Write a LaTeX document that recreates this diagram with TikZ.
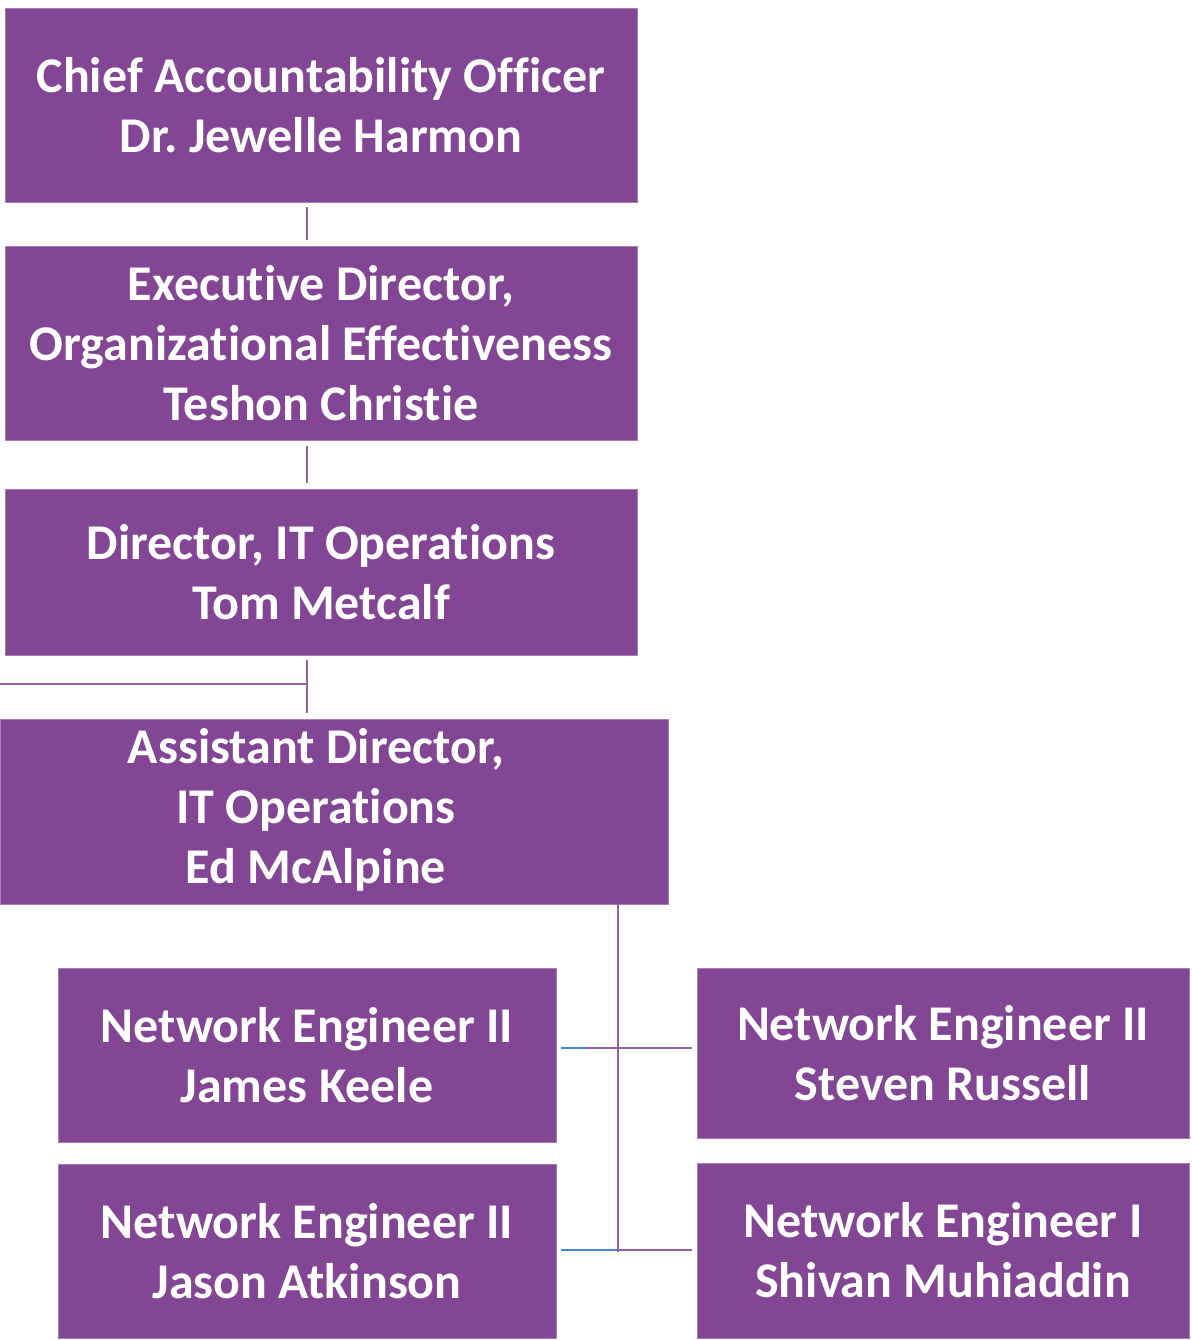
\documentclass[tikz,border=0pt]{standalone}
\usepackage{fontspec}
\setmainfont{Carlito}[Ligatures={NoCommon}]
\usetikzlibrary{calc}
\definecolor{orgpurple}{HTML}{834695}
\definecolor{linkblue}{HTML}{4A86D8}
\frenchspacing
\begin{document}
\begin{tikzpicture}[x=0.75pt,y=-0.75pt,
    post/.style={fill=orgpurple, draw=orgpurple!70!white, line width=0.6pt,
      text=white, font=\bfseries\fontsize{37.5}{45}\selectfont,
      align=center, inner sep=0pt},
    link/.style={orgpurple!85!white, line width=1.1pt},
    bluelink/.style={linkblue, line width=1.1pt}]
  \useasboundingbox (0,0) rectangle (1192,1340);

  % boxes
  \node[post, minimum width=474pt, minimum height=145.5pt] (cao) at (321,105)
    {Chief Accountability Officer\\Dr. Jewelle Harmon};
  \node[post, minimum width=474pt, minimum height=145.5pt] (exec) at (321,343)
    {Executive Director,\\Organizational Effectiveness\\Teshon Christie};
  \node[post, minimum width=474pt, minimum height=124.5pt] (dir) at (321,572)
    {Director, IT Operations\\Tom Metcalf};
  \node[post, minimum width=501pt, minimum height=138.75pt] (asst) at (334,811.5)
    {\begin{tabular}{@{}c@{}}Assistant Director,\\IT Operations\\Ed McAlpine\end{tabular}\hspace*{27pt}};
  \node[post, minimum width=373.5pt, minimum height=130.5pt] (james) at (307,1055)
    {Network Engineer II\\James Keele};
  \node[post, minimum width=369pt, minimum height=127.5pt] (steven) at (943,1053)
    {Network Engineer II\\Steven Russell};
  \node[post, minimum width=373.5pt, minimum height=130.5pt] (jason) at (307,1251)
    {Network Engineer II\\Jason Atkinson};
  \node[post, minimum width=369pt, minimum height=131.25pt] (shivan) at (943,1250.5)
    {Network Engineer I\\Shivan Muhiaddin};

  % connectors
  \coordinate (spine) at (307,0);
  \coordinate (trunk) at (618,0);
  \coordinate (offpage) at (0,684);
  \coordinate (rowa) at (0,1048);
  \coordinate (rowb) at (0,1250);

  \draw[link] ($(cao.south -| spine)+(0,5)$) -- ($(exec.north -| spine)+(0,-6)$);
  \draw[link] ($(exec.south -| spine)+(0,6)$) -- ($(dir.north -| spine)+(0,-6)$);
  \draw[link] ($(dir.south -| spine)+(0,5)$) -- ($(asst.north -| spine)+(0,-6)$);
  \draw[link] (offpage) -- (offpage -| spine);

  \draw[link] (asst.south -| trunk) -- (trunk |- 0,1252);
  \draw[bluelink] ($(james.east |- rowa)+(5,0)$) -- (588,1048);
  \draw[link] (588,1048) -- ($(steven.west |- rowa)+(-5,0)$);
  \draw[bluelink] ($(jason.east |- rowb)+(5,0)$) -- (rowb -| trunk);
  \draw[link] (rowb -| trunk) -- ($(shivan.west |- rowb)+(-5,0)$);
\end{tikzpicture}
\end{document}
